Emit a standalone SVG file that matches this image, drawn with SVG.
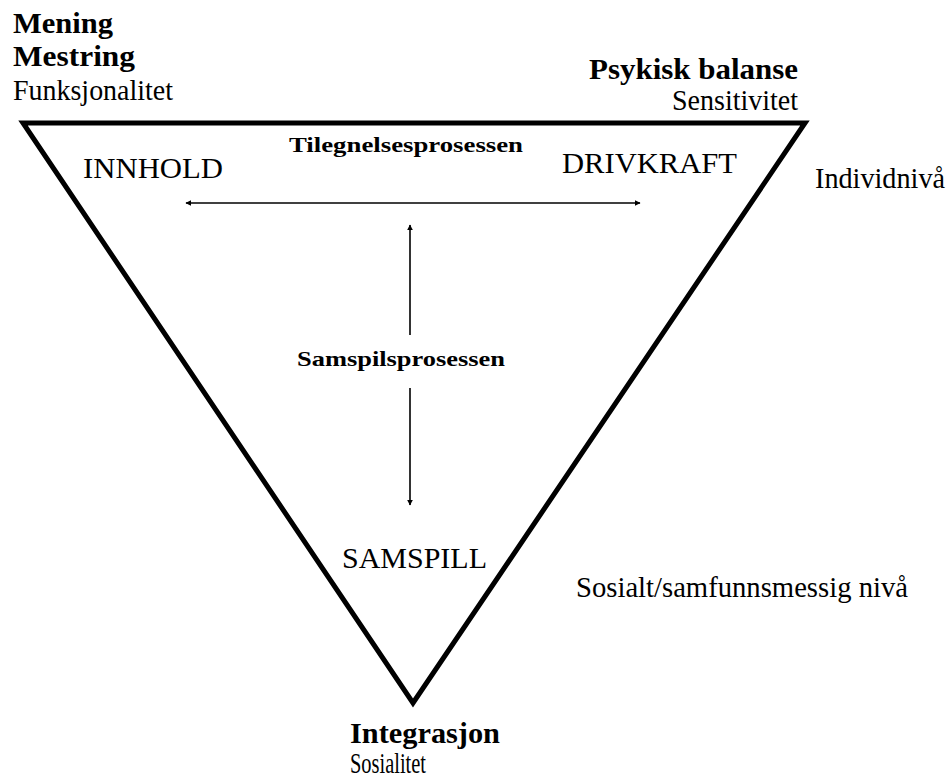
<svg xmlns="http://www.w3.org/2000/svg" width="950" height="778" viewBox="0 0 950 778">
<style>
.r{font-family:"Liberation Serif","Times New Roman",serif;font-size:29px;fill:#000}
.b{font-family:"Liberation Serif","Times New Roman",serif;font-size:29px;font-weight:bold;fill:#000}
.s{font-family:"Liberation Serif","Times New Roman",serif;font-size:22px;font-weight:bold;fill:#000}
.cap{font-family:"Liberation Serif","Times New Roman",serif;font-size:30px;fill:#000}
.ln{stroke:#000;stroke-width:1.6;fill:none}
</style>
<defs>
<marker id="ah" viewBox="0 0 10 10" refX="9" refY="5" markerWidth="6" markerHeight="6" markerUnits="userSpaceOnUse" orient="auto-start-reverse">
<path d="M0,0 L10,5 L0,10 z" fill="#000"/>
</marker>
</defs>
<rect width="950" height="778" fill="#fff"/>
<g id="triangle">
<polygon points="23,123 805,123 413,703" fill="none" stroke="#000" stroke-width="5" stroke-linejoin="miter"/>
</g>
<g id="top-left-labels">
<text class="b" x="13" y="33" textLength="100" lengthAdjust="spacingAndGlyphs">Mening</text>
<text class="b" x="13" y="66" textLength="122" lengthAdjust="spacingAndGlyphs">Mestring</text>
<text class="r" x="13" y="100" textLength="160" lengthAdjust="spacingAndGlyphs">Funksjonalitet</text>
</g>
<g id="top-right-labels">
<text class="b" x="589" y="79" textLength="209" lengthAdjust="spacingAndGlyphs">Psykisk balanse</text>
<text class="r" x="672" y="110" textLength="126" lengthAdjust="spacingAndGlyphs">Sensitivitet</text>
</g>
<g id="innhold"><text class="cap" x="83" y="178" textLength="140" lengthAdjust="spacingAndGlyphs">INNHOLD</text></g>
<g id="drivkraft"><text class="cap" x="562" y="173" textLength="175" lengthAdjust="spacingAndGlyphs">DRIVKRAFT</text></g>
<g id="tilegnelse"><text class="s" x="289" y="152" textLength="234" lengthAdjust="spacingAndGlyphs">Tilegnelsesprosessen</text></g>
<g id="individniva"><text class="r" x="815" y="188" textLength="130" lengthAdjust="spacingAndGlyphs">Individnivå</text></g>
<g id="samspilsprosessen"><text class="s" x="297" y="366" textLength="208" lengthAdjust="spacingAndGlyphs">Samspilsprosessen</text></g>
<g id="samspill"><text class="cap" x="342" y="568" textLength="145" lengthAdjust="spacingAndGlyphs">SAMSPILL</text></g>
<g id="sosialt"><text class="r" x="576" y="597" textLength="332" lengthAdjust="spacingAndGlyphs">Sosialt/samfunnsmessig nivå</text></g>
<g id="bottom-labels">
<text class="b" x="350" y="743" textLength="150" lengthAdjust="spacingAndGlyphs">Integrasjon</text>
<text class="r" x="350" y="773" textLength="76" lengthAdjust="spacingAndGlyphs">Sosialitet</text>
</g>
<g id="connectors">
<line class="ln" x1="186" y1="203" x2="640" y2="203" marker-start="url(#ah)" marker-end="url(#ah)"/>
<line class="ln" x1="410" y1="335" x2="410" y2="225" marker-end="url(#ah)"/>
<line class="ln" x1="410" y1="388" x2="410" y2="505" marker-end="url(#ah)"/>
</g>
</svg>
